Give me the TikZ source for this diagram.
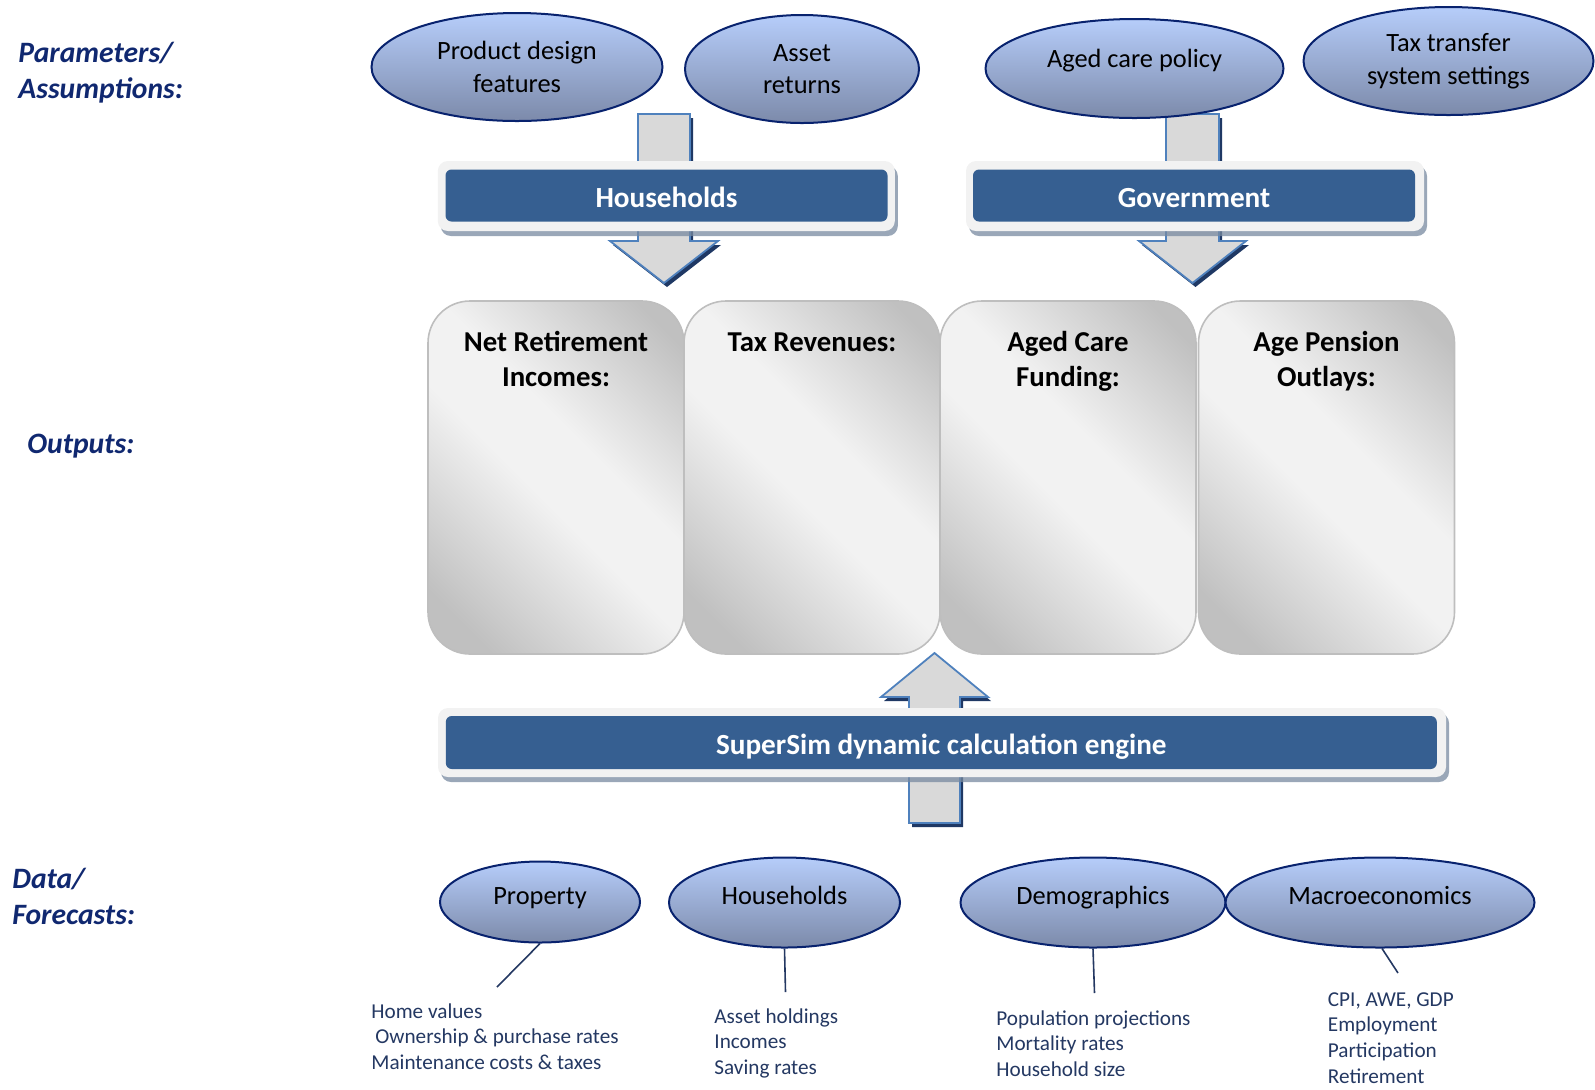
\documentclass[tikz,border=0pt]{standalone}
\usepackage{fontspec}
\setmainfont{Carlito}
\usetikzlibrary{shapes.geometric,shadows,positioning}

\definecolor{labelblue}{RGB}{16,40,112}
\definecolor{elltop}{RGB}{182,205,250}
\definecolor{ellbot}{RGB}{124,138,170}
\definecolor{ellline}{RGB}{8,34,110}
\definecolor{barblue}{RGB}{54,95,145}
\definecolor{framegray}{RGB}{242,242,242}
\definecolor{barshadow}{RGB}{120,138,160}
\definecolor{arrowgray}{RGB}{217,217,217}
\definecolor{arrowline}{RGB}{79,129,189}
\definecolor{arrowshadow}{RGB}{31,56,100}
\definecolor{boxdark}{RGB}{192,192,192}
\definecolor{boxlight}{RGB}{242,242,242}
\definecolor{boxline}{RGB}{190,190,190}
\definecolor{notecolor}{RGB}{36,56,98}

\pgfdeclareverticalshading{boxshade}{100bp}{color(0bp)=(boxdark); color(22bp)=(boxdark);
  color(46bp)=(boxlight); color(57bp)=(boxlight); color(80bp)=(boxdark); color(100bp)=(boxdark)}

\tikzstyle{paramoval} = [ellipse, draw=ellline, line width=1pt, top color=elltop, bottom color=ellbot, inner sep=0pt, align=center, font=\fontsize{13.2}{16.3}\selectfont]
\tikzstyle{dataoval} = [paramoval, text height=9pt, text depth=6.6pt]
\tikzstyle{framebox} = [rounded corners=5pt, fill=framegray, inner sep=0pt, drop shadow={shadow xshift=1.5pt, shadow yshift=-2.5pt, fill=barshadow, opacity=0.75}]
\tikzstyle{barbox} = [rounded corners=3pt, fill=barblue, text=white, inner sep=0pt, text height=13pt, text depth=1pt, font=\bfseries\fontsize{14.6}{16}\selectfont]
\tikzstyle{outbox} = [rounded corners=21pt, draw=boxline, line width=0.8pt, shading=boxshade, shading angle=-45, minimum width=128pt, minimum height=176.5pt]
\tikzstyle{outtitle} = [inner sep=0pt, align=center, font=\bfseries\fontsize{14.4}{17.8}\selectfont]
\tikzstyle{sidelabel} = [anchor=base west, inner sep=0pt, align=left, text=labelblue, font=\bfseries\itshape\fontsize{14.8}{18.3}\selectfont]
\tikzstyle{note} = [anchor=base west, inner sep=0pt, align=left, text=notecolor, font=\fontsize{10.6}{12.8}\selectfont]
\tikzstyle{stem} = [draw=notecolor, line width=0.8pt]
\tikzstyle{blockarrow} = [fill=arrowgray, draw=arrowline, line width=0.9pt, drop shadow={shadow xshift=1.5pt, shadow yshift=-2pt, fill=arrowshadow, opacity=1}]

\begin{document}
\begin{tikzpicture}[x=0.5pt, y=-0.5pt]
\useasboundingbox (0,0) rectangle (1595,1089);

\node[sidelabel] (parlab) at (18,98.6) {Parameters/\\Assumptions:};
\node[sidelabel] (outlab) at (27,453) {Outputs:};
\node[sidelabel] (datlab) at (12,924.6) {Data/\\Forecasts:};

\draw[blockarrow] (638,114) -- (690,114) -- (690,241) -- (718,241) -- (664,283)
    -- (610,241) -- (638,241) -- cycle;
\draw[blockarrow] (1166,114) -- (1219,114) -- (1219,241) -- (1246,241) -- (1192.5,283)
    -- (1139,241) -- (1166,241) -- cycle;

\node[paramoval, minimum width=145.5pt, minimum height=54pt] (design) at (517,67) {Product design\\features};
\node[paramoval, minimum width=117pt, minimum height=54pt] (returns) at (802,69) {Asset\\returns};
\node[paramoval, minimum width=149pt, minimum height=49.5pt, text height=9pt, text depth=10.2pt] (agedpol) at (1134.5,68.5) {Aged care policy};
\node[paramoval, minimum width=145pt, minimum height=54pt] (taxsys) at (1448.5,61) {Tax transfer\\system settings};

\node[framebox, minimum width=228.5pt, minimum height=35pt] (hhframe) at (666.3,196) {};
\node[barbox, minimum width=221pt, minimum height=26pt] (hhbar) at (666.5,195.5) {Households};
\node[framebox, minimum width=229pt, minimum height=35pt] (govframe) at (1195,196) {};
\node[barbox, minimum width=221pt, minimum height=26pt] (govbar) at (1194,195.5) {Government};

\node[outbox] (nri) at (556,477.5) {};
\node[outbox] (taxrev) at (812,477.5) {};
\node[outbox] (agedfund) at (1068,477.5) {};
\node[outbox] (pension) at (1326.5,477.5) {};
\node[outtitle, below=43.3pt of nri.north, anchor=base] (nrititle) {Net Retirement\\Incomes:};
\node[outtitle, below=25.5pt of taxrev.north, anchor=base] (taxrevtitle) {Tax Revenues:};
\node[outtitle, below=43.3pt of agedfund.north, anchor=base] (agedfundtitle) {Aged Care\\Funding:};
\node[outtitle, below=43.3pt of pension.north, anchor=base] (pensiontitle) {Age Pension\\Outlays:};

\draw[blockarrow] (909,823) -- (909,697) -- (881,697) -- (934.5,653) -- (988,697)
    -- (960,697) -- (960,823) -- cycle;

\node[framebox, minimum width=504pt, minimum height=34.5pt] (simframe) at (942,742.5) {};
\node[barbox, minimum width=495.5pt, minimum height=26.5pt] (simbar) at (941.3,742.5) {SuperSim dynamic calculation engine};

\node[dataoval, minimum width=100pt, minimum height=40.5pt] (property) at (540,902) {Property};
\node[dataoval, minimum width=115.5pt, minimum height=45pt] (hhdata) at (784.5,902.5) {Households};
\node[dataoval, minimum width=132.5pt, minimum height=45pt] (demog) at (1093,902.5) {Demographics};
\node[dataoval, minimum width=154.5pt, minimum height=45pt] (macro) at (1380,902.5) {Macroeconomics};

\node[note] (propnote) at (371,1069.2) {Home values\\\hspace{2pt}Ownership \& purchase rates\\Maintenance costs \& taxes};
\node[note] (hhnote) at (714,1074.2) {Asset holdings\\Incomes\\Saving rates};
\node[note] (demognote) at (996,1076.2) {Population projections\\Mortality rates\\Household size};
\node[note] (macronote) at (1327.5,1083) {CPI, AWE, GDP\\Employment\\Participation\\Retirement};

\coordinate (propend) at (497,987);
\coordinate (hhend) at (785.5,992);
\coordinate (demogend) at (1094.5,993);
\coordinate (macroend) at (1398,973);
\draw[stem] (property.south) -- (propend);
\draw[stem] (hhdata.south) -- (hhend);
\draw[stem] (demog.south) -- (demogend);
\draw[stem] (macro.south) ++(1pt,0) -- (macroend);
\end{tikzpicture}
\end{document}
